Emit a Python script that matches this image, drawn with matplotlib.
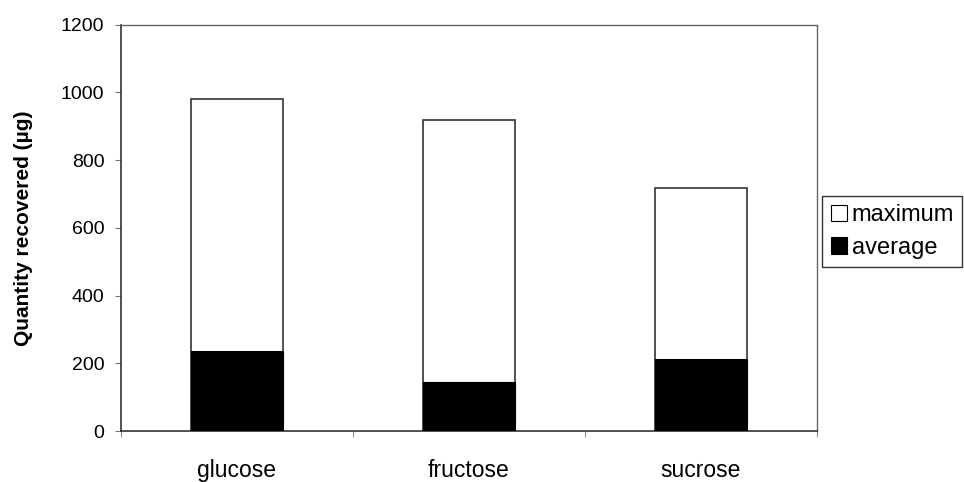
import matplotlib
matplotlib.use("Agg")
import matplotlib.pyplot as plt
from matplotlib.patches import Patch
import numpy as np

# ----- Datos -----
azucares = ["glucose", "fructose", "sucrose"]
maximo = [980, 918, 718]
promedio = [235, 145, 213]
y_ticks = [0, 200, 400, 600, 800, 1000, 1200]

plt.rcParams["font.family"] = ["Liberation Sans", "DejaVu Sans"]

fig = plt.figure(figsize=(9.64, 4.82), dpi=100)
ax = fig.add_axes([0.1255, 0.1058, 0.722, 0.843])

x = np.arange(len(azucares))
ancho = 0.4

ax.bar(x, maximo, width=ancho, color="white", edgecolor="#333333", linewidth=1.2, zorder=2)
ax.bar(x, promedio, width=ancho, color="black", edgecolor="black", linewidth=0.8, zorder=3)

ax.set_xlim(-0.5, len(azucares) - 0.5)
ax.set_ylim(0, 1200)
ax.set_yticks(y_ticks)
ax.tick_params(axis="y", labelsize=14, length=4, color="#777777", direction="out", pad=8)

# etiquetas en el centro, marcas entre categorias
ax.set_xticks(x)
ax.set_xticklabels(azucares)
ax.set_xticks(np.arange(-0.5, len(azucares)), minor=True)
ax.tick_params(axis="x", which="major", length=0, labelsize=16.5, pad=20)
ax.tick_params(axis="x", which="minor", length=4, color="#777777", direction="out")

for lado in ["top", "right"]:
    ax.spines[lado].set_color("#666666")
    ax.spines[lado].set_linewidth(1.0)
ax.spines["left"].set_color("#333333")
ax.spines["bottom"].set_color("#333333")
ax.spines["left"].set_linewidth(1.2)
ax.spines["bottom"].set_linewidth(1.2)

ax.set_ylabel("Quantity recovered (\u00b5g)", fontsize=15, fontweight="bold", labelpad=20)

manejadores = [
    Patch(facecolor="white", edgecolor="black", linewidth=0.8, label="maximum"),
    Patch(facecolor="black", edgecolor="black", linewidth=0.8, label="average"),
]
ley = fig.legend(handles=manejadores, loc="center left", bbox_to_anchor=(0.853, 0.52),
                 fontsize=17, frameon=True, fancybox=False, handlelength=0.7,
                 handleheight=0.7, handletextpad=0.2, borderpad=0.35, labelspacing=0.45,
                 borderaxespad=0.0)
ley.get_frame().set_edgecolor("black")
ley.get_frame().set_linewidth(1.0)

fig.savefig("out.png", dpi=100)
